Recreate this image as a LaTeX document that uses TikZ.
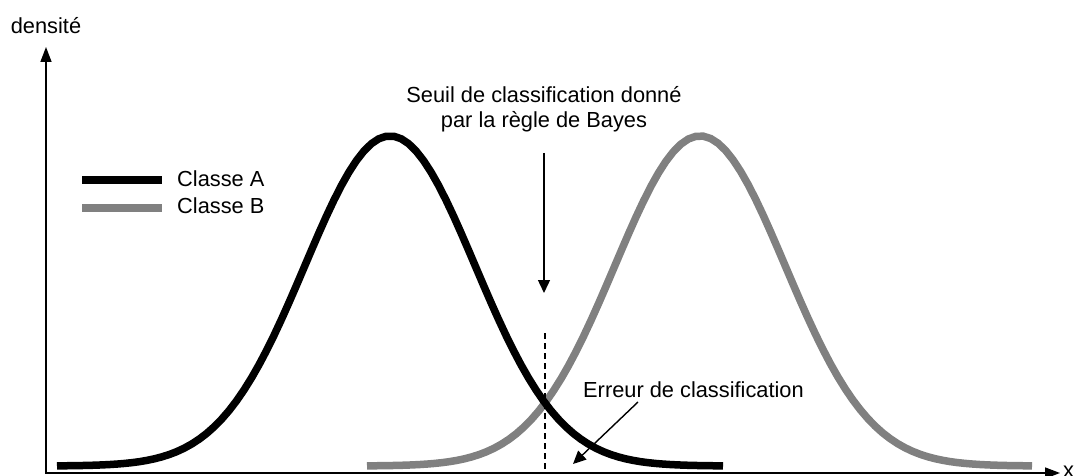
\documentclass[tikz,border=0pt]{standalone}
\usepackage{fontspec}
\setmainfont{Liberation Sans}
\usetikzlibrary{arrows.meta}
\begin{document}
\begin{tikzpicture}[x=1pt,y=-1pt,
  lbl/.style={inner sep=0pt,font=\fontsize{21.8}{26}\selectfont},
  axis/.style={line width=1.6pt,-{Triangle[length=15pt,width=11pt]}},
  pointer/.style={line width=1.4pt,-{Triangle[length=13pt,width=12pt]}},
  classA/.style={line width=7.5pt,black},
  classB/.style={line width=7.5pt,gray50},
  legA/.style={line width=8pt,black},
  legB/.style={line width=8pt,gray50},
  thresh/.style={line width=1.3pt,dash pattern=on 6pt off 4pt}]
\definecolor{gray50}{RGB}{128,128,128}
\useasboundingbox (0,0) rectangle (1074,476);
% axes
\coordinate (O) at (46,473);
\coordinate (Ytop) at (46,47);
\coordinate (Xend) at (1060,473);
\draw[axis] ([yshift=1pt]O) -- (Ytop);
\draw[axis] ([xshift=-1pt]O) -- (Xend);
\node[lbl,anchor=base] (ylab) at (46,34) {densité};
\node[lbl,anchor=base west] (xlab) at (1063,477) {x};
% curves
\draw[classB] plot[domain=367:1032,samples=90] (\x,{466-330*exp(-0.5*((\x-700)/85.2)^2)});
\draw[classA] plot[domain=57:723,samples=90] (\x,{466-330*exp(-0.5*((\x-390)/85.2)^2)});
% legend
\coordinate (la1) at (82,180);
\coordinate (la2) at (162,180);
\coordinate (lb1) at (82,208);
\coordinate (lb2) at (162,208);
\draw[legA] (la1) -- (la2);
\draw[legB] (lb1) -- (lb2);
\node[lbl,anchor=base west] (legtA) at (177,186) {Classe A};
\node[lbl,anchor=base west] (legtB) at (177,213) {Classe B};
% threshold
\node[lbl,anchor=base] (seuil1) at (544,103) {Seuil de classification donné};
\node[lbl,anchor=base] (seuil2) at (544,128) {par la règle de Bayes};
\coordinate (ar1) at (544,153);
\coordinate (ar2) at (544,293);
\draw[pointer] (ar1) -- (ar2);
\coordinate (d1) at (545,333);
\coordinate (d2) at (545,472);
\draw[thresh] (d1) -- (d2);
% error
\node[lbl,anchor=base west] (err) at (583,397) {Erreur de classification};
\coordinate (e1) at (638,402);
\coordinate (e2) at (573,464);
\draw[pointer] (e1) -- (e2);
\end{tikzpicture}
\end{document}
